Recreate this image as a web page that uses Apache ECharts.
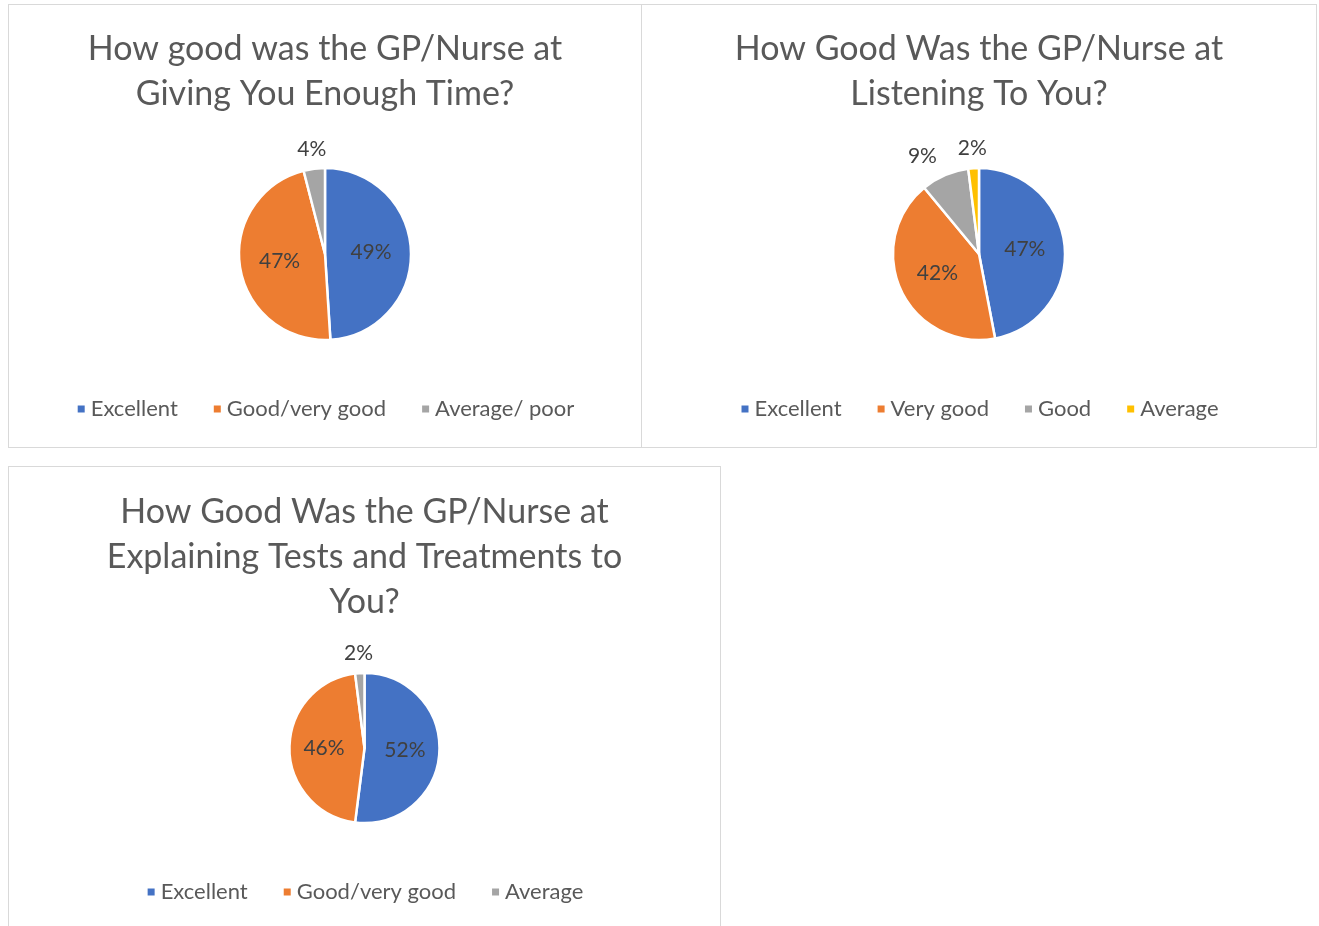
<!DOCTYPE html>
<html>
<head>
<meta charset="utf-8">
<script src="https://cdn.jsdelivr.net/npm/echarts@6/dist/echarts.min.js"></script>
<style>
  html, body { margin: 0; padding: 0; background: #fff; overflow: hidden; width: 1319px; height: 926px; }
  .pie_map { position: absolute; box-sizing: border-box; border: 1px solid #d9d9d9; background: #fff; }
  #c1 { left: 8px; top: 4px; width: 634px; height: 444px; }
  #c2 { left: 641px; top: 4px; width: 676px; height: 444px; }
  #c3 { left: 8px; top: 466px; width: 713px; height: 480px; }
</style>
</head>
<body>
<div class="pie_map" id="c1"></div>
<div class="pie_map" id="c2"></div>
<div class="pie_map" id="c3"></div>
<script>
  // chart 1 - giving enough time
  var titleTime = 'How good was the GP/Nurse at\nGiving You Enough Time?'
  var namesTime = ['Excellent', 'Good/very good', 'Average/ poor']
  var valuesTime = [49, 47, 4]

  // chart 2 - listening
  var titleListen = 'How Good Was the GP/Nurse at\nListening To You?'
  var namesListen = ['Excellent', 'Very good', 'Good', 'Average']
  var valuesListen = [47, 42, 9, 2]

  // chart 3 - explaining tests
  var titleExplain = 'How Good Was the GP/Nurse at\nExplaining Tests and Treatments to\nYou?'
  var namesExplain = ['Excellent', 'Good/very good', 'Average']
  var valuesExplain = [52, 46, 2]

  var colors = ['#4472C4', '#ED7D31', '#A5A5A5', '#FFC000']
  var fontFamily = 'Lato, "Open Sans", sans-serif'

  function initPie(el, title, names, values, layout) {
    var chart = echarts.init(document.getElementById(el))
    var total = values.reduce(function (a, b) { return a + b }, 0)
    var data = names.map(function (name, i) {
      var item = {name: name, value: values[i]}
      if (values[i] / total < 0.12) {
        item.label = {position: 'outside'} // 小扇区标签放外面
      }
      return item
    })

    chart.setOption({
      color: colors,
      animation: false,
      title: {
        text: title,
        left: 'center',
        top: layout.titleTop,
        textStyle: {
          fontFamily: fontFamily,
          fontSize: 34,
          fontWeight: 'normal',
          color: '#595959',
          lineHeight: 45
        }
      },
      legend: {
        bottom: layout.legendBottom,
        left: 'center',
        icon: 'rect',
        itemWidth: 9,
        itemHeight: 9,
        itemGap: 34,
        textStyle: {
          fontFamily: fontFamily,
          fontSize: 22,
          color: '#595959'
        },
        data: names
      },
      series: [
        {
          type: 'pie',
          radius: layout.radius,
          center: ['50%', layout.centerY],
          startAngle: 90,
          clockwise: true,
          avoidLabelOverlap: false,
          percentPrecision: 0,
          itemStyle: {
            borderColor: '#fff',
            borderWidth: 2.5
          },
          label: {
            position: 'inside',
            formatter: '{d}%',
            fontFamily: fontFamily,
            fontSize: 21,
            color: '#404040',
            distanceToLabelLine: 0
          },
          labelLine: {
            show: false,
            length: 20,
            length2: 0
          },
          labelLayout: function (p) {
            // very small slices get a centred label above the pie
            if (values[p.dataIndex] / total < 0.05) {
              return {align: 'center'}
            }
            return {}
          },
          data: data
        }
      ]
    })
    window.addEventListener('resize', function () { chart.resize() })
    return chart
  }

  initPie('c1', titleTime, namesTime, valuesTime, {titleTop: 17, legendBottom: 22, radius: 86, centerY: 249})
  initPie('c2', titleListen, namesListen, valuesListen, {titleTop: 17, legendBottom: 22, radius: 86, centerY: 249})
  initPie('c3', titleExplain, namesExplain, valuesExplain, {titleTop: 18, legendBottom: 37, radius: 75, centerY: 281})
</script>
</body>
</html>
